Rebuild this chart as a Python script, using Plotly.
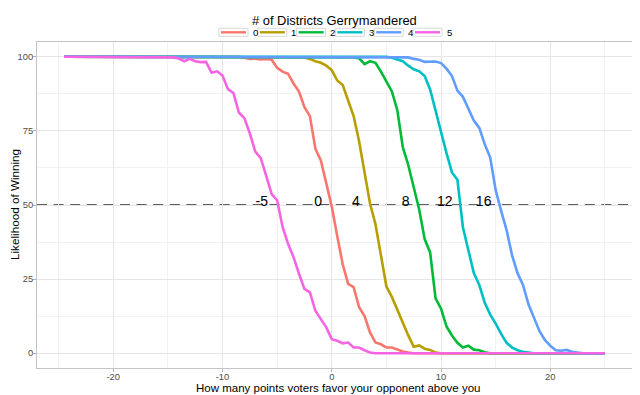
import plotly.graph_objects as go

# ---------------- data ----------------
groups = ["0", "1", "2", "3", "4", "5"]
colors = ["#F8766D", "#B79F00", "#00BA38", "#00BFC4", "#619CFF", "#F564E3"]

x0 = [-24.5, -8.5, -8, -7.5, -7, -6.5, -6, -5.5, -5, -4.5, -4, -3.5, -3, -2.5, -2, -1.5, -1, -0.5,
      0, 0.5, 1, 1.5, 2, 2.5, 3, 3.5, 4, 4.5, 5, 5.5, 6, 6.5, 7, 7.5, 25]
y0 = [100, 100, 99.7, 99.3, 99.4, 99.1, 99.3, 99.0, 96.3, 95.0, 94.3, 91.0, 88.3, 83.0, 80.0, 69.0, 65.0, 57.5,
      49.5, 39.5, 30.0, 23.4, 22.3, 15.5, 12.5, 7.0, 3.6, 3.0, 1.9, 1.9, 1.2, 0.6, 0.2, 0, 0]

x1 = [-24.5, -3, -2.5, -2, -1.5, -1, -0.5, 0, 0.5, 1, 1.5, 2, 2.5, 3, 3.5, 4, 4.5, 5, 5.5, 6,
      6.5, 7, 7.5, 8, 8.5, 9, 9.5, 10, 25]
y1 = [100, 100, 99.8, 99.3, 98.5, 98.0, 97.0, 95.5, 92.0, 90.5, 85.5, 80.0, 71.5, 61.0, 50.5, 43.5, 32.5, 22.5, 19.0, 14.5,
      10.0, 6.0, 2.2, 2.6, 1.5, 1.1, 0.2, 0, 0]

x2 = [-24.5, 1.5, 2, 2.5, 3, 3.5, 4, 4.5, 5, 5.5, 6, 6.5, 7, 7.5, 8, 8.5, 9, 9.5, 10, 10.5,
      11, 11.5, 12, 12.5, 13, 13.5, 14, 14.5, 25]
y2 = [100, 100, 99.8, 99.5, 97.5, 98.5, 98.0, 95.0, 91.7, 88.3, 82.0, 69.5, 63.5, 56.0, 48.5, 38.5, 34.0, 18.5, 15.0, 9.0,
      6.0, 3.5, 1.9, 2.5, 1.2, 1.0, 0.3, 0, 0]

x3 = [-24.5, 5, 5.5, 6, 6.5, 7, 7.5, 8, 8.5, 9, 9.5, 10, 10.5, 11, 11.5, 12, 12.5, 13, 13.5, 14,
      14.5, 15, 15.5, 16, 16.5, 17, 17.5, 18, 18.5, 25]
y3 = [100, 100, 99.7, 99.1, 98.5, 97.0, 95.8, 95.1, 93.5, 89.0, 81.5, 75.0, 67.5, 61.0, 58.5, 42.5, 35.0, 27.0, 23.0, 17.0,
      13.0, 10.0, 6.5, 3.5, 1.9, 1.0, 0.5, 0.3, 0, 0]

x4 = [-24.5, 6.5, 7, 7.5, 8, 8.5, 9, 9.5, 10, 10.5, 11, 11.5, 12, 12.5, 13, 13.5, 14, 14.5, 15, 15.5,
      16, 16.5, 17, 17.5, 18, 18.5, 19, 19.5, 20, 20.5, 21, 21.5, 22, 22.5, 23, 25]
y4 = [100, 100, 99.8, 99.3, 99.0, 98.3, 98.3, 98.4, 97.9, 96.0, 93.5, 88.6, 86.5, 82.5, 78.5, 76.0, 70.5, 66.0, 55.0, 48.0,
      41.5, 33.0, 27.0, 23.0, 16.5, 12.0, 7.5, 4.5, 2.5, 1.0, 0.8, 1.1, 0.5, 0.2, 0, 0]

x5 = [-24.5, -15, -14.5, -14, -13.5, -13, -12.5, -12, -11.5, -11, -10.5, -10, -9.5, -9, -8.5, -8, -7.5, -7, -6.5, -6,
      -5.5, -5, -4.5, -4, -3.5, -3, -2.5, -2, -1.5, -1, -0.5, 0, 0.5, 1, 1.5, 2, 2.5, 3, 3.5, 4, 25]
y5 = [100, 100, 99.8, 99.4, 98.5, 99.3, 98.5, 98.2, 98.3, 94.6, 95.1, 93.7, 89.1, 87.8, 81.2, 79.3, 74.2, 68.0, 65.8, 59.8,
      53.7, 51.6, 42.6, 36.9, 32.4, 26.8, 21.7, 20.5, 14.3, 11.5, 8.7, 4.7, 4.2, 3.3, 3.6, 1.9, 1.9, 1.0, 0.2, 0, 0]

series_x = [x0, x1, x2, x3, x4, x5]
series_y = [y0, y1, y2, y3, y4, y5]

threshold = 50
label_text = ["-5", "0", "4", "8", "12", "16"]
label_x = [-6.4, -1.25, 2.2, 6.75, 10.35, 13.9]
label_y = [51, 51, 51, 51, 51, 51]

x_ticks = [-20, -10, 0, 10, 20]
y_ticks = [0, 25, 50, 75, 100]

# ---------------- layout geometry ----------------
# The page body has an 8px default margin, so the figure is drawn 8px in/down;
# geometry below is expressed in screen pixels and converted.
OFF = 8
W, H = 640 - OFF, 395 - OFF
P_LEFT, P_RIGHT, P_TOP, P_BOTTOM = 37, 632, 42, 368  # panel in screen px
ML, MT = P_LEFT - OFF, P_TOP - OFF
MR = W - (P_RIGHT - OFF)
MB = H - (P_BOTTOM - OFF)
PW, PH = P_RIGHT - P_LEFT, P_BOTTOM - P_TOP
FONT = "Liberation Sans, Arial, sans-serif"


def pxx(px):
    return (px - P_LEFT) / PW


def pxy(py):
    return (P_BOTTOM - py) / PH


fig = go.Figure()

for name, col, xs, ys in zip(groups, colors, series_x, series_y):
    fig.add_trace(go.Scatter(x=xs, y=ys, mode="lines", name=name, showlegend=False,
                             line=dict(color=col, width=2.6), hoverinfo="skip"))

fig.add_trace(go.Scatter(x=label_x, y=label_y, mode="text", text=label_text,
                         textposition="middle center", showlegend=False,
                         textfont=dict(family=FONT, size=14, color="#000000"), hoverinfo="skip"))

shapes = [dict(type="line", xref="paper", x0=0, x1=1, yref="y", y0=threshold, y1=threshold,
               line=dict(color="#5E5E5E", width=2.2, dash="10px,6.6px"), layer="between")]

annotations = []
# axis titles
annotations.append(dict(text="How many points voters favor your opponent above you",
                        xref="paper", yref="paper", x=pxx(338), y=pxy(388.3),
                        showarrow=False, xanchor="center", yanchor="middle",
                        font=dict(family=FONT, size=11.5, color="#000000")))
annotations.append(dict(text="Likelihood of Winning", textangle=-90,
                        xref="paper", yref="paper", x=pxx(14), y=pxy(205),
                        showarrow=False, xanchor="center", yanchor="middle",
                        font=dict(family=FONT, size=11.7, color="#000000")))
# manual legend (ggplot style, horizontal on top)
annotations.append(dict(text="# of Districts Gerrymandered", xref="paper", yref="paper",
                        x=pxx(334), y=pxy(21), showarrow=False, xanchor="center", yanchor="middle",
                        font=dict(family=FONT, size=12.9, color="#000000")))
for i, (name, col) in enumerate(zip(groups, colors)):
    bl = 219 + 38.8 * i
    shapes.append(dict(type="rect", xref="paper", yref="paper", x0=pxx(bl), x1=pxx(bl + 29),
                       y0=pxy(36.3), y1=pxy(28.3), line=dict(color="#D9D9D9", width=1),
                       fillcolor="white", layer="above"))
    shapes.append(dict(type="line", xref="paper", yref="paper", x0=pxx(bl + 2), x1=pxx(bl + 27),
                       y0=pxy(32.3), y1=pxy(32.3), line=dict(color=col, width=2.4), layer="above"))
    annotations.append(dict(text=name, xref="paper", yref="paper", x=pxx(bl + 31.5), y=pxy(32.5),
                            showarrow=False, xanchor="left", yanchor="middle",
                            font=dict(family=FONT, size=9.6, color="#000000")))

fig.update_layout(
    width=W, height=H,
    margin=dict(l=ML, r=MR, t=MT, b=MB, pad=0),
    paper_bgcolor="white", plot_bgcolor="white",
    font=dict(family=FONT, color="#000000"),
    shapes=shapes, annotations=annotations,
    showlegend=False,
)

fig.update_xaxes(
    range=[-26.975, 27.475], tickvals=x_ticks, ticktext=[str(v) for v in x_ticks],
    showgrid=True, gridcolor="#E6E6E6", gridwidth=1,
    minor=dict(dtick=5, tick0=0, showgrid=True, gridcolor="#F2F2F2", gridwidth=0.8, ticks=""),
    zeroline=False, showline=True, mirror=True, linecolor="#C4C4C4", linewidth=1,
    ticks="outside", ticklen=3, tickcolor="#B3B3B3", tickwidth=1, ticklabelstandoff=-3,
    tickfont=dict(family=FONT, size=9.4, color="#4D4D4D"),
    automargin=False,
)
fig.update_yaxes(
    range=[-5, 105], tickvals=y_ticks, ticktext=[str(v) for v in y_ticks],
    showgrid=True, gridcolor="#E6E6E6", gridwidth=1,
    minor=dict(dtick=12.5, tick0=0, showgrid=True, gridcolor="#F2F2F2", gridwidth=0.8, ticks=""),
    zeroline=False, showline=True, mirror=True, linecolor="#C4C4C4", linewidth=1,
    ticks="outside", ticklen=3, tickcolor="#B3B3B3", tickwidth=1, ticklabelstandoff=-2,
    tickfont=dict(family=FONT, size=9.4, color="#4D4D4D"),
    automargin=False,
)

fig.write_html("out.html")
